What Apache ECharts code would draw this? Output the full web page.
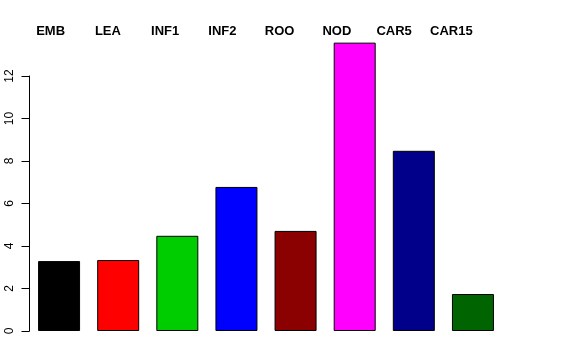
<!DOCTYPE html>
<html>
<head>
<meta charset="utf-8">
<script src="https://cdn.jsdelivr.net/npm/echarts@6/dist/echarts.min.js"></script>
<style>html,body{margin:0;padding:0;background:#fff}#c{width:576px;height:360px}</style>
</head>
<body>
<div id="c"></div>
<script>
var categories = ['EMB', 'LEA', 'INF1', 'INF2', 'ROO', 'NOD', 'CAR5', 'CAR15'];
var values = [3.29, 3.34, 4.48, 6.78, 4.71, 13.57, 8.48, 1.74];
var barColors = ['#000000', '#FF0000', '#00CD00', '#0000FF', '#8B0000', '#FF00FF', '#00008B', '#006400'];
var yTicks = [0, 2, 4, 6, 8, 10, 12];

var chart = echarts.init(document.getElementById('c'), null, {renderer: 'canvas'});
chart.setOption({
  animation: false,
  backgroundColor: '#ffffff',
  grid: [
    {left: 29.5, width: 473, top: 76, bottom: 29},
    {left: 22, width: 458, top: 37.5, height: 10}
  ],
  xAxis: [
    {
      type: 'category', gridIndex: 0, data: categories,
      axisLine: {show: false}, axisTick: {show: false}, axisLabel: {show: false}
    },
    {
      type: 'category', gridIndex: 1, data: categories, position: 'top',
      axisLine: {show: false}, axisTick: {show: false},
      axisLabel: {show: true, interval: 0, margin: 0, color: '#000',
        fontFamily: 'Liberation Sans', fontWeight: 'bold', fontSize: 13}
    }
  ],
  yAxis: [
    {
      type: 'value', gridIndex: 0, min: yTicks[0], max: yTicks[yTicks.length - 1], interval: 2,
      splitLine: {show: false},
      axisLine: {show: true, lineStyle: {color: '#000', width: 1}},
      axisTick: {show: true, length: 8, lineStyle: {color: '#000'}},
      axisLabel: {rotate: 90, margin: 14, color: '#000', fontFamily: 'Liberation Sans', fontSize: 12}
    },
    {type: 'value', gridIndex: 1, show: false, min: 0, max: 1}
  ],
  series: [{
    type: 'bar', xAxisIndex: 0, yAxisIndex: 0, clip: false, barWidth: 42,
    data: values.map(function (v, i) {
      return {value: v, itemStyle: {color: barColors[i], borderColor: '#000', borderWidth: 1}};
    })
  }]
});
</script>
</body>
</html>
